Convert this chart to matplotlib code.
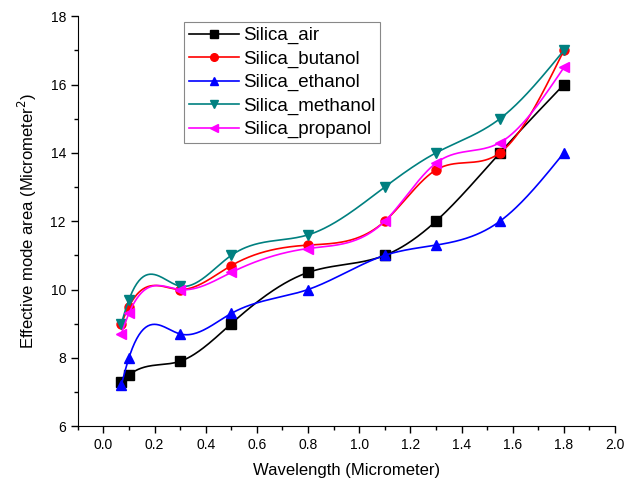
import numpy as np
import matplotlib
matplotlib.use('Agg')
import matplotlib.pyplot as plt
from matplotlib.ticker import MultipleLocator

plt.rcParams['font.family'] = ['Liberation Sans', 'DejaVu Sans']

wavelength = [0.07, 0.1, 0.3, 0.5, 0.8, 1.1, 1.3, 1.55, 1.8]
silica_air      = [7.3, 7.5, 7.9, 9.0, 10.5, 11.0, 12.0, 14.0, 16.0]
silica_butanol  = [9.0, 9.5, 10.0, 10.7, 11.3, 12.0, 13.5, 14.0, 17.0]
silica_ethanol  = [7.2, 8.0, 8.7, 9.3, 10.0, 11.0, 11.3, 12.0, 14.0]
silica_methanol = [9.0, 9.7, 10.1, 11.0, 11.6, 13.0, 14.0, 15.0, 17.0]
silica_propanol = [8.7, 9.3, 10.0, 10.5, 11.2, 12.0, 13.7, 14.3, 16.5]


def natural_spline(x, y, n=400):
    # natural cubic spline through every point, for the smooth connecting line
    x = np.asarray(x, float)
    y = np.asarray(y, float)
    m = len(x)
    h = np.diff(x)
    A = np.zeros((m, m))
    b = np.zeros(m)
    A[0, 0] = A[-1, -1] = 1.0
    for i in range(1, m - 1):
        A[i, i - 1] = h[i - 1]
        A[i, i] = 2 * (h[i - 1] + h[i])
        A[i, i + 1] = h[i]
        b[i] = 6 * ((y[i + 1] - y[i]) / h[i] - (y[i] - y[i - 1]) / h[i - 1])
    M = np.linalg.solve(A, b)
    xs = np.linspace(x[0], x[-1], n)
    idx = np.clip(np.searchsorted(x, xs) - 1, 0, m - 2)
    x0, x1 = x[idx], x[idx + 1]
    hh = x1 - x0
    t0, t1 = x1 - xs, xs - x0
    ys = (M[idx] * t0**3 + M[idx + 1] * t1**3) / (6 * hh) \
        + (y[idx] / hh - M[idx] * hh / 6) * t0 \
        + (y[idx + 1] / hh - M[idx + 1] * hh / 6) * t1
    return xs, ys


series = [
    ('Silica_air',      silica_air,      'black',   's'),
    ('Silica_butanol',  silica_butanol,  '#ff0000', 'o'),
    ('Silica_ethanol',  silica_ethanol,  '#0000ff', '^'),
    ('Silica_methanol', silica_methanol, '#008080', 'v'),
    ('Silica_propanol', silica_propanol, '#ff00ff', '<'),
]

fig = plt.figure(figsize=(6.27, 4.91), dpi=100)
ax = fig.add_axes([0.124, 0.132, 0.857, 0.835])

for name, vals, color, mk in series:
    xs, ys = natural_spline(wavelength, vals)
    ax.plot(xs, ys, color=color, lw=1.2)
    ax.plot(wavelength, vals, linestyle='none', marker=mk, color=color, ms=6.5)
    ax.plot([], [], color=color, lw=1.2, marker=mk, ms=5.5, label=name)

ax.set_xlim(-0.1, 2.0)
ax.set_ylim(6, 18)
ax.xaxis.set_minor_locator(MultipleLocator(0.1))
ax.yaxis.set_major_locator(MultipleLocator(2))
ax.yaxis.set_minor_locator(MultipleLocator(1))
ax.set_xticks(np.arange(0, 2.01, 0.2))
ax.set_xticklabels([f'{v:.1f}' for v in np.arange(0, 2.01, 0.2)])

ax.spines['top'].set_visible(False)
ax.spines['right'].set_visible(False)
ax.tick_params(which='major', direction='out', length=5, width=1, labelsize=10)
ax.tick_params(which='minor', direction='out', length=3, width=1)

ax.set_xlabel('Wavelength (Micrometer)', fontsize=12, labelpad=8)
ax.set_ylabel('Effective mode area (Micrometer$^2$)', fontsize=12, labelpad=8)

leg = ax.legend(loc='upper left', bbox_to_anchor=(0.198, 0.985), borderaxespad=0,
                fontsize=13.5, handlelength=2.7, handletextpad=0.2,
                labelspacing=0.33, fancybox=False, framealpha=1, borderpad=0.25)
leg.get_frame().set_edgecolor('#888888')
leg.get_frame().set_linewidth(0.8)

fig.savefig('out.png', dpi=100)
